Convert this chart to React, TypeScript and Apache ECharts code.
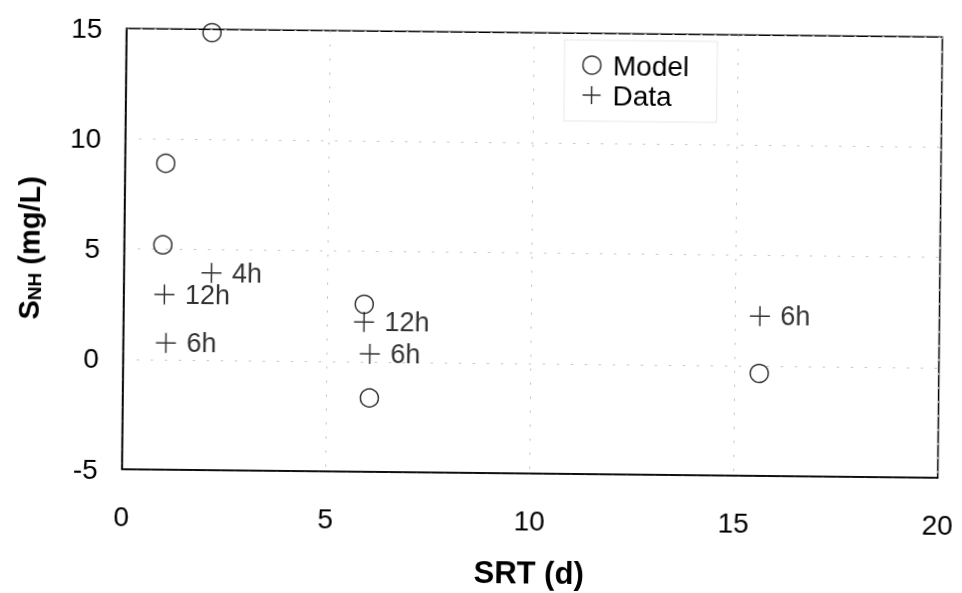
import React, { useEffect, useRef } from "react";
import * as echarts from "echarts";

const modelX = [2.1, 1.0, 0.95, 5.9, 6.05, 15.6];
const modelY = [14.85, 8.9, 5.2, 2.6, -1.65, -0.35];
const dataX = [2.15, 1.0, 1.05, 5.9, 6.05, 15.6];
const dataY = [3.95, 2.95, 0.75, 1.8, 0.35, 2.25];
const dataLabels = ["4h", "12h", "6h", "12h", "6h", "6h"];
const xTicks = [0, 5, 10, 15, 20];
const yTicks = [-5, 0, 5, 10, 15];

const PLUS = "path://M0,10 L20,10 M10,0 L10,20";
const FONT = "Liberation Sans, Arial, sans-serif";

export default function App() {
  const ref = useRef<HTMLDivElement>(null);
  useEffect(() => {
    const chart = echarts.init(ref.current!, null, { renderer: "svg" });
    chart.setOption({
      animation: false,
      backgroundColor: "#fff",
      textStyle: { fontFamily: FONT, color: "#000" },
      grid: {
        left: 123.6, right: 22.4, top: 32.2, bottom: 112.5,
        show: true, borderColor: "#000", borderWidth: 1.5, backgroundColor: "transparent",
      },
      legend: {
        orient: "vertical",
        left: 562, top: 39,
        itemWidth: 20, itemHeight: 18, itemGap: 2,
        padding: [11, 28, 12, 16],
        borderColor: "#d0d0d0", borderWidth: 1, borderType: "dotted",
        textStyle: { fontSize: 28, color: "#000", fontFamily: FONT, padding: [0, 0, 0, 6] },
        data: [
          { name: "Model", icon: "circle", itemStyle: { color: "none", borderColor: "#000", borderWidth: 1.5 } },
          { name: "Data", icon: PLUS, itemStyle: { color: "none", borderColor: "#000", borderWidth: 1.5 } },
        ],
      },
      xAxis: {
        type: "value", min: xTicks[0], max: xTicks[xTicks.length - 1], interval: 5,
        name: "SRT (d)", nameLocation: "middle", nameGap: 84,
        nameTextStyle: { fontSize: 31, fontWeight: "bold", color: "#000", fontFamily: FONT },
        axisLine: { show: true, onZero: false, lineStyle: { color: "#000", width: 1.5 } },
        axisTick: { show: false },
        axisLabel: { fontSize: 28, color: "#000", margin: 33, fontFamily: FONT },
        splitLine: { show: true, lineStyle: { color: "#b8b8b8", type: [2, 12], width: 1 } },
      },
      yAxis: {
        type: "value", min: yTicks[0], max: yTicks[yTicks.length - 1], interval: 5,
        name: "{s|S}{sub|NH}{s| (mg/L)}", nameLocation: "middle", nameGap: 80,
        nameTextStyle: {
          rich: {
            s: { fontSize: 29, fontWeight: "bold", color: "#000", fontFamily: FONT },
            sub: { fontSize: 19, fontWeight: "bold", color: "#000", fontFamily: FONT, verticalAlign: "bottom", padding: [9, 0, 0, 0] },
          },
        },
        axisLine: { show: true, onZero: false, lineStyle: { color: "#000", width: 1.5 } },
        axisTick: { show: false },
        axisLabel: { fontSize: 28, color: "#000", margin: 24, fontFamily: FONT },
        splitLine: { show: true, lineStyle: { color: "#b8b8b8", type: [2, 12], width: 1 } },
      },
      series: [
        {
          name: "Model", type: "scatter", symbol: "circle", symbolSize: 18,
          itemStyle: { color: "none", borderColor: "#000", borderWidth: 1.5 },
          data: modelX.map((x, i) => [x, modelY[i]]),
        },
        {
          name: "Data", type: "scatter", symbol: PLUS, symbolSize: 20,
          itemStyle: { color: "none", borderColor: "#000", borderWidth: 1.5 },
          label: {
            show: true, position: "right", distance: 8,
            formatter: (p: any) => dataLabels[p.dataIndex],
            fontSize: 27, color: "#000", fontFamily: FONT,
          },
          data: dataX.map((x, i) => [x, dataY[i]]),
        },
      ],
    });
    return () => chart.dispose();
  }, []);
  return (
    <div
      ref={ref}
      style={{
        position: "fixed", left: 0, top: 0, width: 962, height: 593,
        transform: "rotate(0.6deg)", transformOrigin: "481px 296.5px",
      }}
    />
  );
}
